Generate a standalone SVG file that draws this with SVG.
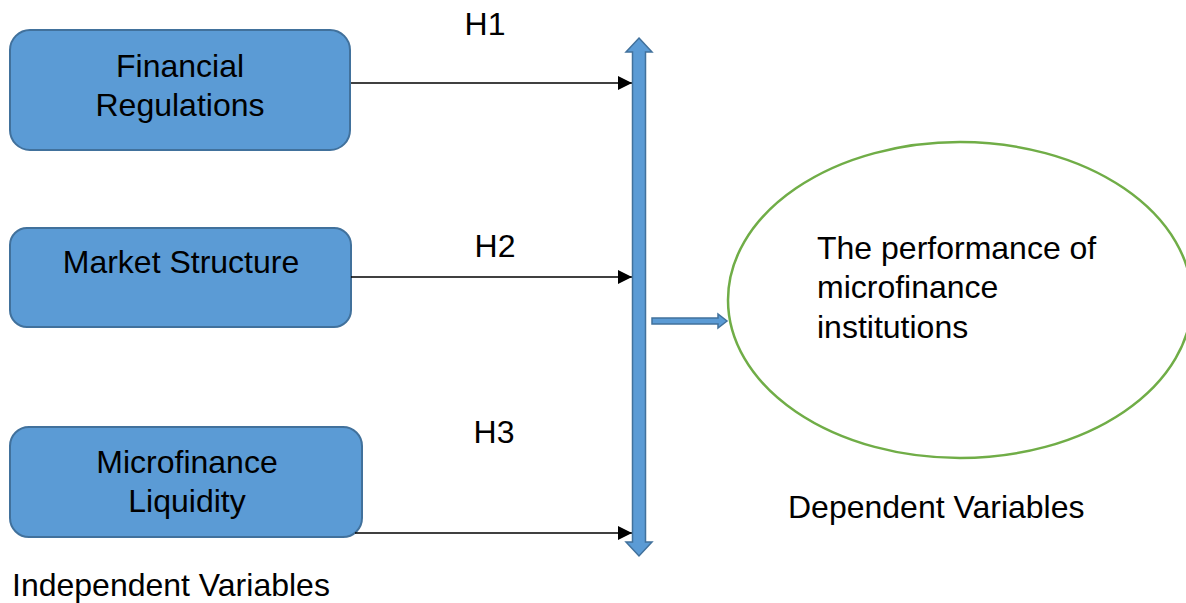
<svg xmlns="http://www.w3.org/2000/svg" width="1186" height="603" viewBox="0 0 1186 603">
  <defs>
    <style>
      .box { fill: #5B9BD5; stroke: #41719C; stroke-width: 2; }
      .lbl { font-family: "Liberation Sans", Arial, sans-serif; font-size: 32px; fill: #000; }
      .mid { text-anchor: middle; }
      .link { stroke: #000; stroke-width: 1.3; fill: none; marker-end: url(#tri); }
      .block { fill: #5B9BD5; stroke: #41719C; stroke-width: 1.5; }
    </style>
    <marker id="tri" viewBox="0 0 10 10" refX="10" refY="5" markerWidth="16" markerHeight="14" markerUnits="userSpaceOnUse" orient="auto">
      <path d="M0,0 L10,5 L0,10 Z" fill="#000"/>
    </marker>
  </defs>

  <rect width="1186" height="603" fill="#fff"/>

  <g id="financial-regulations">
    <rect class="box" x="10" y="30" width="340" height="120" rx="20"/>
    <text class="lbl mid" x="180" y="77">Financial</text>
    <text class="lbl mid" x="180" y="116">Regulations</text>
  </g>

  <g id="market-structure">
    <rect class="box" x="10" y="228" width="341" height="99" rx="17"/>
    <text class="lbl mid" x="181" y="273">Market Structure</text>
  </g>

  <g id="microfinance-liquidity">
    <rect class="box" x="10" y="427" width="352" height="110" rx="19"/>
    <text class="lbl mid" x="187" y="473">Microfinance</text>
    <text class="lbl mid" x="187" y="512">Liquidity</text>
  </g>

  <g id="performance">
    <ellipse cx="960" cy="300" rx="232" ry="158" fill="#fff" stroke="#70AD47" stroke-width="2.5"/>
    <text class="lbl" x="817" y="259">The performance of</text>
    <text class="lbl" x="817" y="298">microfinance</text>
    <text class="lbl" x="817" y="338">institutions</text>
  </g>

  <g id="connectors">
    <line class="link" x1="351" y1="83" x2="632" y2="83"/>
    <line class="link" x1="351" y1="277" x2="632" y2="277"/>
    <line class="link" x1="355" y1="533" x2="632" y2="533"/>
    <!-- vertical double-headed block arrow -->
    <path class="block" d="M639,38 L652,52 L645.5,52 L645.5,542 L652,542 L639,556 L626,542 L632.5,542 L632.5,52 L626,52 Z"/>
    <!-- block arrow toward the outcome -->
    <path class="block" d="M652,318 L718,318 L718,314 L727,321 L718,328 L718,324 L652,324 Z"/>
  </g>

  <g id="labels">
    <text class="lbl mid" x="485" y="35">H1</text>
    <text class="lbl mid" x="495" y="257">H2</text>
    <text class="lbl mid" x="494" y="443">H3</text>
    <text class="lbl" x="12" y="596">Independent Variables</text>
    <text class="lbl" x="788" y="518">Dependent Variables</text>
  </g>
</svg>
